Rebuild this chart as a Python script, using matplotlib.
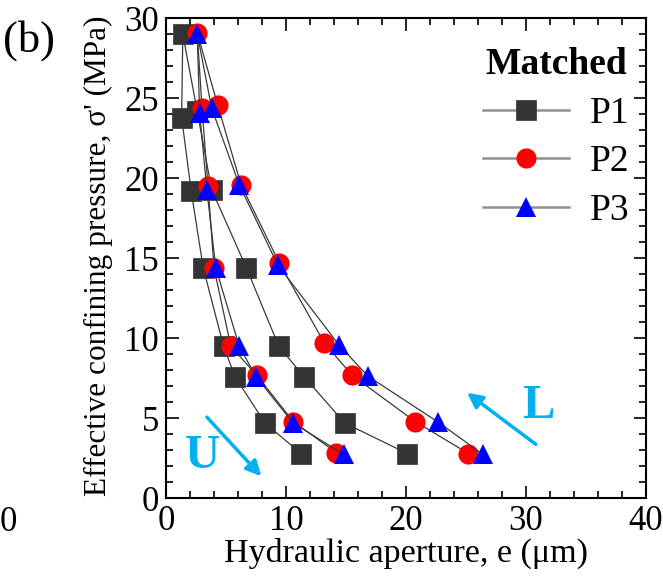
import matplotlib
matplotlib.use("Agg")
import matplotlib.pyplot as plt
from matplotlib.ticker import MultipleLocator

plt.rcParams['font.family'] = ['Liberation Serif', 'DejaVu Serif']
plt.rcParams['mathtext.fontset'] = 'stix'

# Loading (outer curve, low -> high pressure) followed by unloading (inner curve)
p1_e = [20.1, 14.9, 11.5, 9.4, 6.7, 3.8, 2.6, 1.4, 1.3, 2.1, 3.1, 4.8, 5.75, 8.25, 11.25]
p1_s = [2.8, 4.7, 7.6, 9.5, 14.4, 19.3, 24.2, 29.0, 23.8, 19.2, 14.4, 9.5, 7.6, 4.7, 2.8]

p2_e = [25.2, 20.75, 15.5, 13.2, 9.45, 6.25, 4.3, 2.6, 3.0, 3.5, 4.0, 5.4, 7.55, 10.6, 14.2]
p2_s = [2.8, 4.8, 7.7, 9.7, 14.7, 19.6, 24.6, 29.1, 24.4, 19.5, 14.4, 9.5, 7.7, 4.8, 2.85]

p3_e = [26.4, 22.7, 16.8, 14.4, 9.3, 6.1, 3.8, 2.6, 2.8, 3.4, 4.15, 6.1, 7.5, 10.6, 14.8]
p3_s = [2.75, 4.75, 7.65, 9.6, 14.6, 19.6, 24.4, 29.05, 24.1, 19.3, 14.4, 9.5, 7.6, 4.7, 2.75]

series_names = ["P1", "P2", "P3"]

fig = plt.figure(figsize=(6.63, 5.77), dpi=100)
ax = fig.add_axes([0.2504, 0.1364, 0.724, 0.8318])

line_col = '#3a3a3a'
ax.plot(p1_e, p1_s, '-', color=line_col, lw=0.9, marker='s', ms=14,
        mfc='#333333', mec='#333333', mew=0.5, label=series_names[0], zorder=3)
ax.plot(p2_e, p2_s, '-', color=line_col, lw=0.9, marker='o', ms=14.5,
        mfc='#ff0000', mec='#ff0000', mew=0, label=series_names[1], zorder=4)
ax.plot(p3_e, p3_s, '-', color=line_col, lw=0.9, marker='^', ms=14,
        mfc='#0000ff', mec='#0000ff', mew=0, label=series_names[2], zorder=5)

ax.set_xlim(0, 40)
ax.set_ylim(0, 30)
ax.xaxis.set_major_locator(MultipleLocator(10))
ax.xaxis.set_minor_locator(MultipleLocator(2))
ax.yaxis.set_major_locator(MultipleLocator(5))
ax.yaxis.set_minor_locator(MultipleLocator(1))
ax.tick_params(which='both', direction='in', top=True, right=True, labelsize=25, width=1.2)
ax.tick_params(which='major', length=9, pad=5)
ax.tick_params(which='minor', length=5)
for s in ax.spines.values():
    s.set_linewidth(1.5)

ax.set_xlabel("Hydraulic aperture, e (\u03bcm)", fontsize=24.5, labelpad=0)
ax.set_ylabel("Effective confining pressure, \u03c3' (MPa)", fontsize=22.5, labelpad=4)
ax.yaxis.set_label_coords(-0.11, 0.505)

# arrows
arrow_col = '#00b0f0'
ax.annotate('', xy=(8.1, 1.25), xytext=(3.25, 5.2),
            arrowprops=dict(arrowstyle='-|>,head_length=0.9,head_width=0.45', color=arrow_col, lw=2.5))
ax.annotate('', xy=(24.9, 6.7), xytext=(31.0, 3.27),
            arrowprops=dict(arrowstyle='-|>,head_length=0.9,head_width=0.45', color=arrow_col, lw=2.5))
ax.text(3.0, 2.65, 'U', color=arrow_col, fontsize=35, fontweight='bold', ha='center', va='center')
ax.text(31.0, 5.8, 'L', color=arrow_col, fontsize=35, fontweight='bold', ha='center', va='center')

leg = ax.legend(loc='upper right', bbox_to_anchor=(1.02, 0.995), frameon=False, fontsize=27,
                title='Matched', title_fontproperties={'weight': 'bold', 'size': 27},
                handlelength=2.3, labelspacing=0.38, handletextpad=0.55, borderaxespad=0.3)
for h in leg.get_lines():
    h.set_color('#909090')
    h.set_linewidth(1.8)

fig.text(0.005, 0.965, '(b)', fontsize=32, ha='left', va='top')
fig.text(0.0, 0.095, '0', fontsize=25, ha='left', va='center')

fig.savefig('out.png', dpi=100)
